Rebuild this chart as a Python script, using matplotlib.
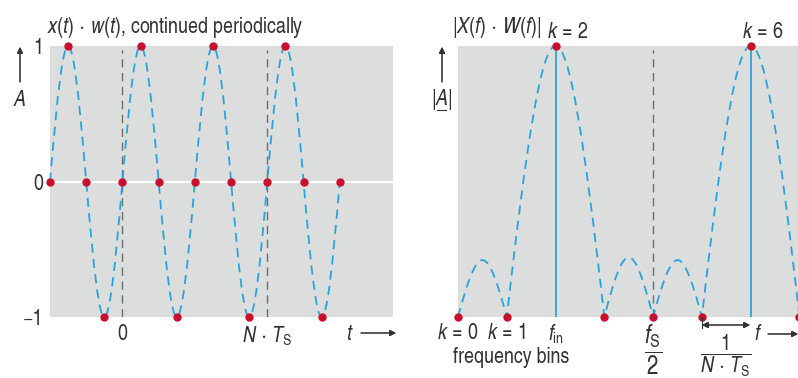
import matplotlib
matplotlib.use('Agg')
from matplotlib import pyplot as plt
from matplotlib.path import Path
from matplotlib.patches import PathPatch
from matplotlib.lines import Line2D

FONT = 'TeX Gyre Heros Cn'
plt.rcParams['font.family'] = [FONT, 'DejaVu Sans']
plt.rcParams['mathtext.fontset'] = 'custom'
plt.rcParams['mathtext.rm'] = FONT
plt.rcParams['mathtext.it'] = FONT + ':italic'
plt.rcParams['mathtext.bf'] = FONT + ':bold'
plt.rcParams['mathtext.sf'] = FONT

# time signal: zero crossings and extrema (in sample units)
n_zero = [0, 1, 2, 3, 4, 5, 6, 7, 8]
n_peak = [0.5, 1.5, 2.5, 3.5, 4.5, 5.5, 6.5, 7.5]
a_peak = [1, -1, 1, -1, 1, -1, 1, -1]
t_marks = [2, 6]
t_labels = ['0', r'$N\,\cdot\,T_{\mathrm{S}}$']

# spectrum: frequency bins and lobes
k_zero = [0, 1, 3, 4, 5, 7]
k_peak = [2, 6]
lobe_start = [0, 1, 3, 4, 5]
lobe_end = [1, 3, 4, 5, 7]
lobe_height = [0.21, 1.0, 0.22, 0.21, 1.0]
k_ticks = [0, 1, 2, 4]
k_labels = [r'$k\,=\,0$', r'$k\,=\,1$', r'$f_{\mathrm{in}}$',
            r'$\dfrac{f_{\mathrm{S}}}{2}$']

W, H = 798, 378
BG = '#dcdddd'
BLUE = '#29a3dc'
RED = '#c8102e'
TXT = '#333333'
GRID = '#6e6e6e'
FS = 15.7


def px(x, y):
    return x / W, 1 - y / H


def arches(x0s, x1s, hs, c=0.42):
    # cubic bezier arches between zeros, peaking at hs
    verts, codes = [], []
    for x0, x1, h in zip(x0s, x1s, hs):
        w = x1 - x0
        if not verts:
            verts.append((x0, 0))
            codes.append(Path.MOVETO)
        verts += [(x0 + c * w, 4 * h / 3), (x1 - c * w, 4 * h / 3), (x1, 0)]
        codes += [Path.CURVE4] * 3
    return Path(verts, codes)


fig = plt.figure(figsize=(W / 100, H / 100), dpi=100)

# ---- left: time signal
ax1 = fig.add_axes([50 / W, 1 - 317 / H, (393 - 50) / W, (317 - 46) / H])
ax1.set_facecolor(BG)
ax1.set_xlim(0, 9.47)
ax1.set_ylim(-1, 1)
for s in ax1.spines.values():
    s.set_visible(False)
ax1.axhline(0, color='white', lw=1.5, zorder=1)
for t in t_marks:
    ax1.axvline(t, 0, 0.985, color=GRID, lw=1, ls=(0, (6, 4)), zorder=2)
ax1.add_patch(PathPatch(arches(n_zero[:-1], n_zero[1:], a_peak), fill=False,
                        ec=BLUE, lw=1.3, ls=(0, (5, 3.5)), clip_on=False, zorder=3))
ax1.plot(n_zero, [0] * len(n_zero), 'o', color=RED, ms=5, clip_on=False, zorder=5)
ax1.plot(n_peak, a_peak, 'o', color=RED, ms=5, clip_on=False, zorder=5)
ax1.set_yticks([-1, 0, 1], ['\u22121', '0', '1'], fontsize=FS, color=TXT)
ax1.set_xticks(t_marks, t_labels, fontsize=FS, color=TXT)
ax1.tick_params(length=0, pad=5)

# ---- right: spectrum
ax2 = fig.add_axes([458 / W, 1 - 317 / H, (798 - 458) / W, (317 - 46) / H])
ax2.set_facecolor(BG)
ax2.set_xlim(0, 6.97)
ax2.set_ylim(0, 1)
for s in ax2.spines.values():
    s.set_visible(False)
ax2.axvline(4, 0, 0.985, color=GRID, lw=1, ls=(0, (6, 4)), zorder=2)
ax2.vlines(k_peak, 0, 1, color=BLUE, lw=1.3, zorder=3)
ax2.add_patch(PathPatch(arches(lobe_start, lobe_end, lobe_height), fill=False,
                        ec=BLUE, lw=1.3, ls=(0, (5, 3.5)), clip_on=False, zorder=3))
ax2.plot(k_zero, [0] * len(k_zero), 'o', color=RED, ms=5, clip_on=False, zorder=5)
ax2.plot(k_peak, [1] * len(k_peak), 'o', color=RED, ms=5, clip_on=False, zorder=5)
ax2.set_yticks([])
ax2.set_xticks(k_ticks, k_labels, fontsize=FS, color=TXT)
ax2.get_xticklabels()[3].set_fontsize(FS * 1.15)
ax2.tick_params(length=0, pad=4)

# ---- annotations
arr = dict(arrowstyle='-|>', color=TXT, lw=0.8, mutation_scale=9, shrinkA=0, shrinkB=0)


def arrow(x0, y0, x1, y1, props=arr):
    fig.add_artist(plt.annotate('', xy=px(x1, y1), xytext=px(x0, y0),
                                xycoords='figure fraction', textcoords='figure fraction',
                                arrowprops=props))


fig.text(*px(47, 28), r'$x(t)\,\cdot\,w(t)$, continued periodically', fontsize=FS,
         color=TXT, va='center')
fig.text(*px(20, 100), r'$A$', fontsize=FS, color=TXT, ha='center', va='center')
arrow(20, 82, 20, 47)
fig.text(*px(350, 335), r'$t$', fontsize=FS, color=TXT, ha='center', va='center')
arrow(361, 333, 396, 333)

fig.text(*px(452, 28), r'$|X(f)\,\cdot\,W(f)|$', fontsize=FS, color=TXT, va='center')
fig.text(*px(568, 33), r'$k\,=\,2$', fontsize=FS, color=TXT, ha='center', va='center')
fig.text(*px(763, 33), r'$k\,=\,6$', fontsize=FS, color=TXT, ha='center', va='center')
fig.text(*px(442, 100), r'$|A|$', fontsize=FS, color=TXT, ha='center', va='center')
fig.add_artist(Line2D([437 / W, 446 / W], [1 - 110 / H] * 2, color=TXT, lw=0.8))
arrow(442, 82, 442, 47)
fig.text(*px(511, 357), 'frequency bins', fontsize=FS, color=TXT, ha='center', va='center')
fig.text(*px(726, 333), r'$\dfrac{1}{N\,\cdot\,T_{\mathrm{S}}}$', fontsize=FS,
         color=TXT, ha='center', va='top')
fig.add_artist(Line2D([702 / W] * 2, [1 - 317 / H, 1 - 328 / H], color=TXT, lw=0.8))
arrow(702, 325, 750, 325, dict(arr, arrowstyle='<|-|>'))
fig.text(*px(758, 335), r'$f$', fontsize=FS, color=TXT, ha='center', va='center')
arrow(768, 334, 798, 334)

fig.savefig('out.png', dpi=100)
